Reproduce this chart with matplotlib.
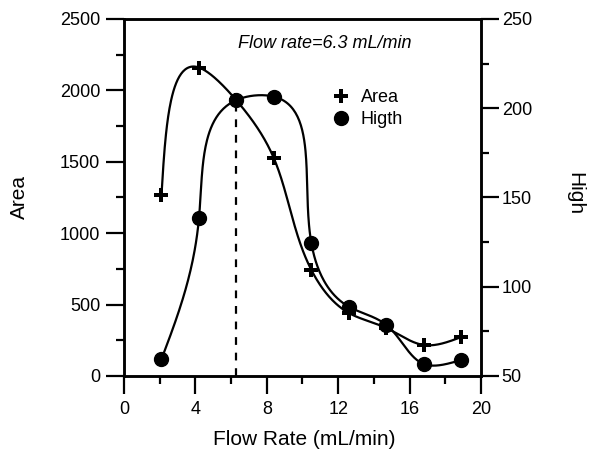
import numpy as np
import matplotlib
matplotlib.use("Agg")
import matplotlib.pyplot as plt
from matplotlib.lines import Line2D
from matplotlib.ticker import MultipleLocator

plt.rcParams['font.family'] = ['Liberation Sans', 'DejaVu Sans']

# data
flow = [2.1, 4.2, 6.3, 8.4, 10.5, 12.6, 14.7, 16.8, 18.9]
area = [1265, 2160, 1930, 1524, 742, 441, 336, 217, 273]
high = [59.4, 138.3, 204.6, 206.5, 124.3, 88.8, 78.6, 56.7, 59.0]
optimum = 6.3


def smooth(x, y, xr, yr, n=60):
    # parametric natural cubic spline in axes-normalised space
    x = np.asarray(x, float)
    y = np.asarray(y, float)
    px = (x - xr[0]) / (xr[1] - xr[0])
    py = (y - yr[0]) / (yr[1] - yr[0])
    h = np.hypot(np.diff(px), np.diff(py))
    t = np.concatenate([[0], np.cumsum(h)])
    k = len(t)

    def second_derivs(v):
        A = np.zeros((k, k))
        b = np.zeros(k)
        A[0, 0] = A[-1, -1] = 1
        for i in range(1, k - 1):
            A[i, i - 1] = h[i - 1]
            A[i, i] = 2 * (h[i - 1] + h[i])
            A[i, i + 1] = h[i]
            b[i] = 6 * ((v[i + 1] - v[i]) / h[i] - (v[i] - v[i - 1]) / h[i - 1])
        return np.linalg.solve(A, b)

    out = []
    for v in (px, py):
        M = second_derivs(v)
        seg = []
        for i in range(k - 1):
            tt = np.linspace(t[i], t[i + 1], n)
            hi = h[i]
            s = (M[i] * (t[i + 1] - tt) ** 3 / (6 * hi)
                 + M[i + 1] * (tt - t[i]) ** 3 / (6 * hi)
                 + (v[i] / hi - M[i] * hi / 6) * (t[i + 1] - tt)
                 + (v[i + 1] / hi - M[i + 1] * hi / 6) * (tt - t[i]))
            seg.append(s)
        out.append(np.concatenate(seg))
    sx = out[0] * (xr[1] - xr[0]) + xr[0]
    sy = out[1] * (yr[1] - yr[0]) + yr[0]
    return sx, sy


fig = plt.figure(figsize=(5.89, 4.51), dpi=100)
ax = fig.add_axes([0.2105, 0.1663, 0.6061, 0.7916])
ax2 = ax.twinx()

xr = (0, 20)
yr1 = (0, 2500)
yr2 = (50, 250)

sx, sy = smooth(flow, area, xr, yr1)
ax.plot(sx, sy, color='black', lw=1.6, zorder=3)
ax.plot(flow, area, 'P', color='black', ms=10, mew=0, zorder=4)

i_opt = flow.index(optimum)
ax.plot([optimum, optimum], [0, area[i_opt]], color='black', lw=1.6,
        ls=(0, (3.5, 3.5)), zorder=2)

hx, hy = smooth(flow, high, xr, yr2)
ax2.plot(hx, hy, color='black', lw=1.6, zorder=3)
ax2.plot(flow, high, 'o', color='black', ms=10, zorder=4)

ax.set_xlim(*xr)
ax.set_ylim(*yr1)
ax2.set_ylim(*yr2)

ax.xaxis.set_major_locator(MultipleLocator(4))
ax.xaxis.set_minor_locator(MultipleLocator(2))
ax.yaxis.set_major_locator(MultipleLocator(500))
ax.yaxis.set_minor_locator(MultipleLocator(250))
ax2.yaxis.set_major_locator(MultipleLocator(50))
ax2.yaxis.set_minor_locator(MultipleLocator(25))

for a in (ax, ax2):
    for sp in a.spines.values():
        sp.set_linewidth(1.8)
    a.tick_params(which='major', direction='out', length=13, width=1.6,
                  labelsize=13, pad=3)
    a.tick_params(which='minor', direction='out', length=6, width=1.6)
ax.tick_params(axis='x', pad=5)
ax.tick_params(axis='y', pad=4)
ax2.tick_params(axis='y', pad=2)

ax.set_xlabel('Flow Rate (mL/min)', fontsize=15)
ax.set_ylabel('Area', fontsize=15)
ax2.set_ylabel('High', fontsize=15, rotation=-90)
ax.xaxis.set_label_coords(0.504, -0.15)
ax.yaxis.set_label_coords(-0.266, 0.5)
ax2.yaxis.set_label_coords(1.289, 0.51)

ax.text(11.23, 2325, 'Flow rate=6.3 mL/min', fontsize=13, style='italic',
        ha='center', va='center')

handles = [Line2D([], [], marker='P', ls='none', color='black', ms=10, mew=0),
           Line2D([], [], marker='o', ls='none', color='black', ms=10)]
ax2.legend(handles, ['Area', 'Higth'], loc='upper left', frameon=False,
           bbox_to_anchor=(0.552, 0.829), fontsize=13, handlelength=1.2,
           handletextpad=0.5, labelspacing=0.3, borderpad=0)

fig.savefig('out.png', dpi=100)
